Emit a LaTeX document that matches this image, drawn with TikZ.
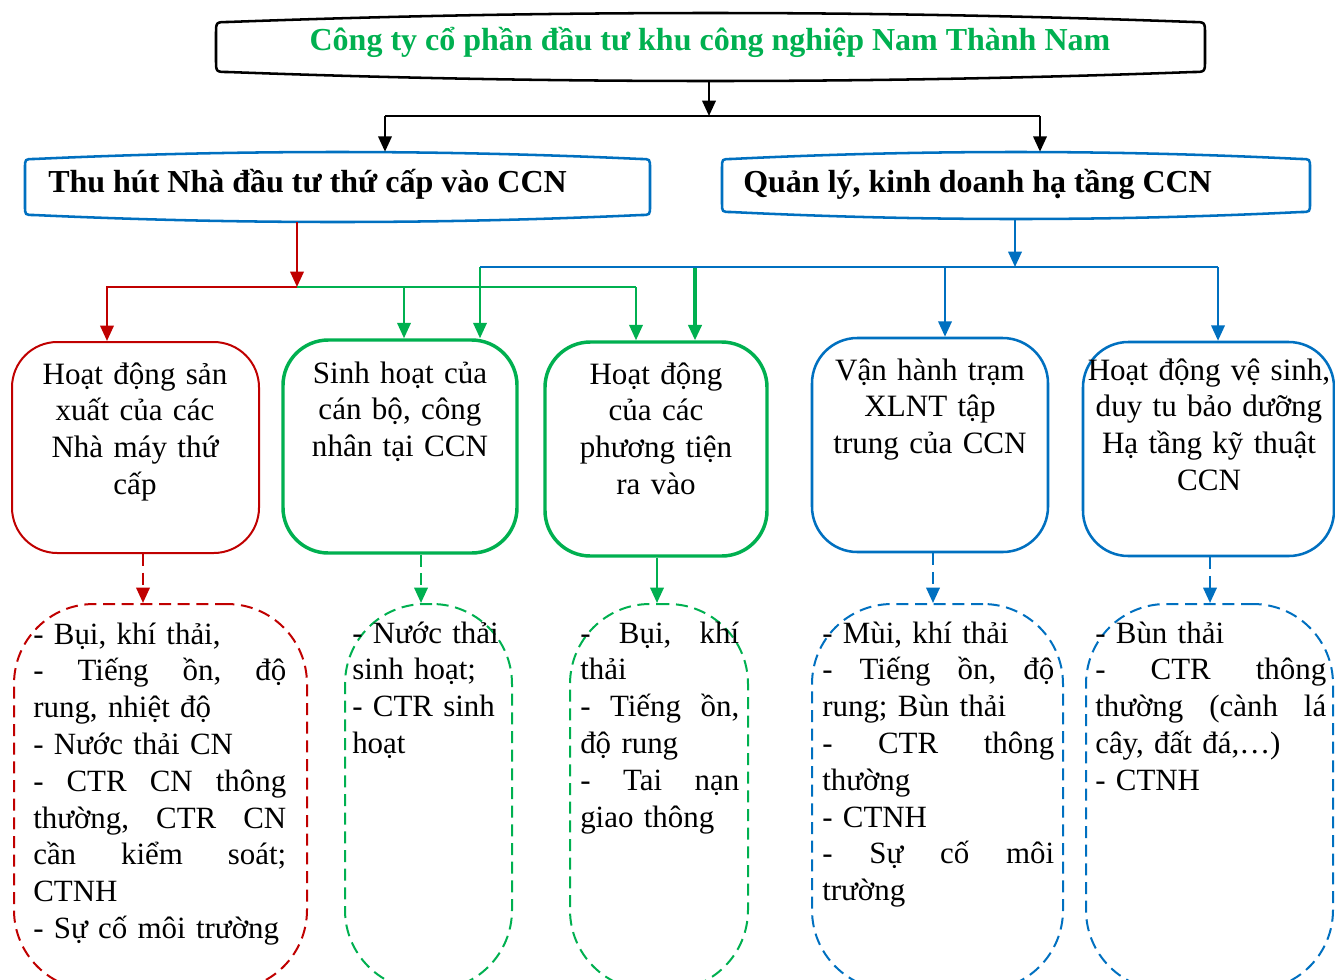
\documentclass[tikz,border=0pt]{standalone}
\usepackage{fontspec}
\setmainfont{Liberation Serif}
\usetikzlibrary{arrows.meta}
\definecolor{cgreen}{HTML}{00B050}
\definecolor{cred}{HTML}{C00000}
\definecolor{cblue}{HTML}{0070C0}
\newcommand{\jline}[2]{\makebox[#1][s]{\frenchspacing\spaceskip=0.25em plus 1fil\relax #2}}
\newcommand{\mybarrel}[7][]{%
  \pgfmathsetmacro\bL{(#4-#2-2*#7)/3}%
  \draw[#1] (#2+#7,#3+#6) .. controls (#2+#7+\bL,#3-#6/3) and (#4-#7-\bL,#3-#6/3) .. (#4-#7,#3+#6)
    .. controls (#4,#3+#6) .. (#4,#3+#6+#7) -- (#4,#5-#6-#7)
    .. controls (#4,#5-#6) .. (#4-#7,#5-#6)
    .. controls (#4-#7-\bL,#5+#6/3) and (#2+#7+\bL,#5+#6/3) .. (#2+#7,#5-#6)
    .. controls (#2,#5-#6) .. (#2,#5-#6-#7) -- (#2,#3+#6+#7)
    .. controls (#2,#3+#6) .. cycle;}
\tikzset{
  arr/.style={-{Triangle[length=11.5pt,width=10pt]}},
  conn/.style={line width=1.8pt, arr},
  lw/.style={line width=1.8pt},
  dsh/.style={dash pattern=on 9pt off 5pt},
  hbold/.style={font=\bfseries\fontsize{24pt}{28pt}\selectfont, inner sep=0},
  mbox/.style={draw, rounded corners=34pt, inner sep=0},
  nbox/.style={draw, dsh, line width=1.5pt, rounded corners=60pt, inner sep=0, minimum height=289.5pt},
  mtext/.style={font=\fontsize{23.3pt}{27.5pt}\selectfont, inner sep=0, align=center, anchor=base},
  ntext/.style={font=\fontsize{23.2pt}{27.6pt}\selectfont, inner sep=0, align=left, anchor=base west, text width=200pt},
}
\begin{document}
\begin{tikzpicture}[x=0.75pt,y=-0.75pt]
\useasboundingbox (0,0) rectangle (1335,979);
\clip (0,0) rectangle (1335,979);
\fill[white] (0,0) rectangle (1335,979);

% top level
\mybarrel[black,line width=1.9pt]{216}{13}{1205}{81}{9}{12}
\node[inner sep=0,minimum width=741.75pt,minimum height=51pt] (top) at (710.5,47) {};
\node[hbold, text=cgreen, anchor=base] (toptext) at (710,50) {Công ty cổ phần đầu tư khu công nghiệp Nam Thành Nam};

% second level
\mybarrel[cblue,line width=1.9pt]{25}{152}{650}{222}{7}{9}
\node[inner sep=0,minimum width=468.75pt,minimum height=52.5pt] (thu) at (337.5,187) {};
\node[hbold, anchor=base west] (thut) at (48,192) {Thu hút Nhà đầu tư thứ cấp vào CCN};

\mybarrel[cblue,line width=1.9pt]{722}{152}{1310}{219}{7}{9}
\node[inner sep=0,minimum width=441pt,minimum height=50.25pt] (qly) at (1016,185.5) {};
\node[hbold, anchor=base west] (qlyt) at (743,192) {Quản lý, kinh doanh hạ tầng CCN};

% connectors from top
\coordinate (jk) at (709,116);
\coordinate (jl) at (385,116);
\coordinate (jr) at (1040,116);
\draw[conn] (top.south -| jk) -- (jk);
\draw[lw] (jl) -- (jr);
\draw[conn] (jl) -- (jl |- thu.north);
\draw[conn] (jr) -- (jr |- qly.north);

% middle boxes
\node[mbox, draw=cred, line width=1.5pt, minimum width=185.25pt, minimum height=158.25pt] (m1) at (135.5,447.5) {};
\node[mbox, draw=cgreen, line width=2.6pt, minimum width=175.5pt, minimum height=159.75pt] (m2) at (400,446.5) {};
\node[mbox, draw=cgreen, line width=2.6pt, minimum width=166.5pt, minimum height=160.5pt] (m3) at (656,449) {};
\node[mbox, draw=cblue, line width=1.9pt, minimum width=177pt, minimum height=160.5pt] (m4) at (930,445) {};
\node[mbox, draw=cblue, line width=1.9pt, minimum width=188.25pt, minimum height=160.5pt] (m5) at (1208.5,449) {};

\node[mtext, text width=180pt] (m1t) at (135,384) {Hoạt động sản\\xuất của các\\Nhà máy thứ\\cấp};
\node[mtext, text width=180pt] (m2t) at (400,383) {Sinh hoạt của\\cán bộ, công\\nhân tại CCN};
\node[mtext, text width=180pt] (m3t) at (656,384) {Hoạt động\\của các\\phương tiện\\ra vào};
\node[mtext, text width=180pt] (m4t) at (930,380) {Vận hành trạm\\XLNT tập\\trung của CCN};
\node[mtext, text width=200pt] (m5t) at (1209,380) {Hoạt động vệ sinh,\\duy tu bảo dưỡng\\Hạ tầng kỹ thuật\\CCN};

% red / green branch from "Thu hut"
\coordinate (jred) at (297,287);
\coordinate (jredl) at (107,287);
\coordinate (jg1) at (404,287);
\coordinate (jg2) at (636,287);
\draw[conn, cred] (jred |- thu.south) -- (jred);
\draw[lw, cgreen] (jred) -- (jg2);
\draw[conn, cred] (jred) -- (jredl) -- (jredl |- m1.north);
\draw[conn, cgreen] (jg1) -- (jg1 |- m2.north);
\draw[conn, cgreen] (jg2) -- (jg2 |- m3.north);

% blue branch from "Quan ly"
\coordinate (jb) at (1015,267);
\coordinate (jb0) at (480,267);
\coordinate (jb1) at (695,267);
\coordinate (jb2) at (945,267);
\coordinate (jb3) at (1218,267);
\draw[conn, cblue] (jb |- qly.south) -- (jb);
\draw[conn, cgreen] (jb0) -- (jb0 |- m2.north);
\draw[conn, cgreen, line width=2.3pt] (jb1) -- (jb1 |- m3.north);
\draw[conn, cblue] (jb2) -- (jb2 |- m4.north);
\draw[conn, cblue] (jb3) -- (jb3 |- m5.north);
\draw[lw, cblue] (jb0) -- (jb3);

% bottom boxes
\node[nbox, draw=cred, minimum width=219.75pt] (n1) at (160.5,797) {};
\node[nbox, draw=cgreen, minimum width=125.25pt] (n2) at (428.5,797) {};
\node[nbox, draw=cgreen, minimum width=133.5pt] (n3) at (659,797) {};
\node[nbox, draw=cblue, minimum width=188.25pt] (n4) at (937.5,797) {};
\node[nbox, draw=cblue, minimum width=185.25pt] (n5) at (1209.5,797) {};

\coordinate (a1) at (143,604);
\coordinate (a2) at (421,604);
\coordinate (a3) at (657,604);
\coordinate (a4) at (933,604);
\coordinate (a5) at (1210,604);
\draw[conn, dsh, cred] (a1 |- m1.south) -- (a1 |- n1.north);
\draw[conn, dsh, cgreen] (a2 |- m2.south) -- (a2 |- n2.north);
\draw[conn, cgreen] (a3 |- m3.south) -- (a3 |- n3.north);
\draw[conn, dsh, cblue] (a4 |- m4.south) -- (a4 |- n4.north);
\draw[conn, dsh, cblue] (a5 |- m5.south) -- (a5 |- n5.north);

\node[ntext] (n1t) at (33,644) {- Bụi, khí thải,\\
\jline{189.75pt}{- Tiếng ồn, độ}\\
rung, nhiệt độ\\
- Nước thải CN\\
\jline{189.75pt}{- CTR CN thông}\\
\jline{189.75pt}{thường, CTR CN}\\
\jline{189.75pt}{cần kiểm soát;}\\
CTNH\\
- Sự cố môi trường};
\node[ntext] (n2t) at (352,643) {- Nước thải\\sinh hoạt;\\- CTR sinh\\hoạt};
\node[ntext] (n3t) at (580,643) {\jline{119.25pt}{- Bụi, khí}\\thải\\\jline{119.25pt}{- Tiếng ồn,}\\độ rung\\\jline{119.25pt}{- Tai nạn}\\giao thông};
\node[ntext] (n4t) at (822,643) {- Mùi, khí thải\\\jline{174pt}{- Tiếng ồn, độ}\\rung; Bùn thải\\\jline{174pt}{- CTR thông}\\thường\\- CTNH\\\jline{174pt}{- Sự cố môi}\\trường};
\node[ntext] (n5t) at (1095,643) {- Bùn thải\\\jline{173.25pt}{- CTR thông}\\\jline{173.25pt}{thường (cành lá}\\cây, đất đá,…)\\- CTNH};
\end{tikzpicture}
\end{document}
